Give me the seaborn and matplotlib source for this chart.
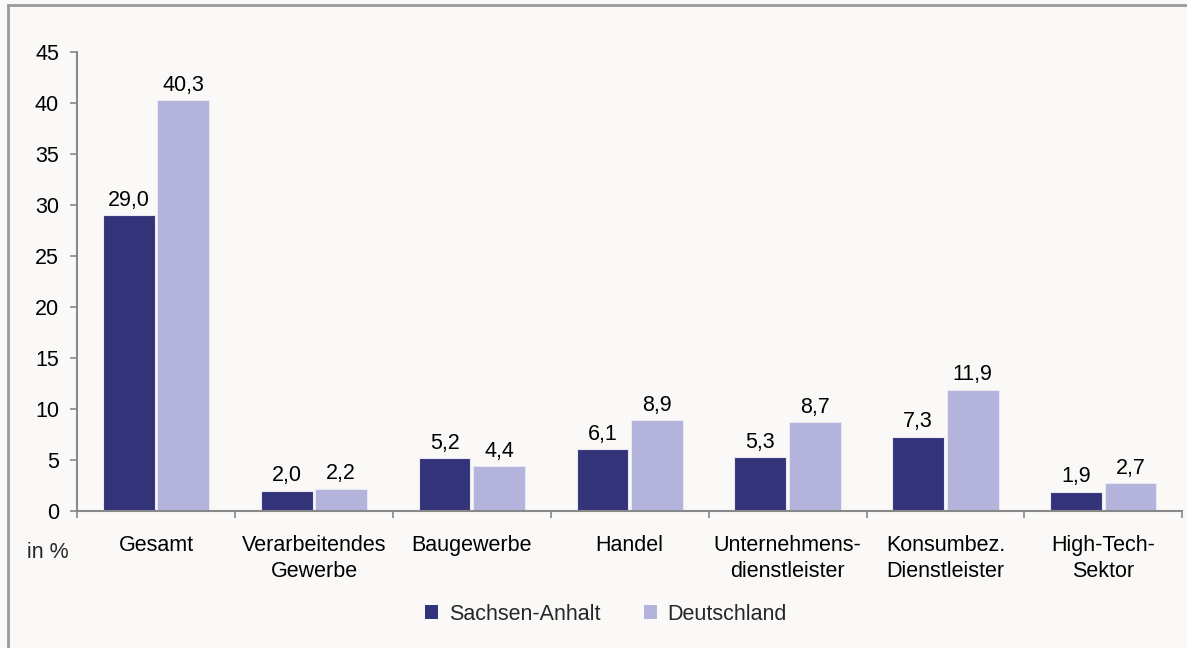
import pandas as pd
import matplotlib.pyplot as plt
import seaborn as sns
from matplotlib.patches import Rectangle, Patch

# Data
categories = ['Gesamt', 'Verarbeitendes\nGewerbe', 'Baugewerbe', 'Handel',
              'Unternehmens-\ndienstleister', 'Konsumbez.\nDienstleister', 'High-Tech-\nSektor']
sachsen_anhalt = [29.0, 2.0, 5.2, 6.1, 5.3, 7.3, 1.9]
deutschland = [40.3, 2.2, 4.4, 8.9, 8.7, 11.9, 2.7]
series = ['Sachsen-Anhalt', 'Deutschland']
colors = ['#333379', '#B3B3DB']
bg = '#FAF9F7'
fs = 15.5

df = pd.DataFrame({
    'Kategorie': categories * 2,
    'Wert': sachsen_anhalt + deutschland,
    'Region': [series[0]] * len(categories) + [series[1]] * len(categories),
})

sns.set_theme(style='white')
plt.rcParams['font.family'] = ['Liberation Sans', 'DejaVu Sans']

fig = plt.figure(figsize=(11.87, 6.48), dpi=100, facecolor=bg)
ax = fig.add_axes([0.065, 0.2114, 0.931, 0.7084], facecolor=bg)

sns.barplot(data=df, x='Kategorie', y='Wert', hue='Region', palette=colors,
            saturation=1, width=0.69, gap=0.05, edgecolor='#E8E8F4', linewidth=0.8,
            legend=False, ax=ax)

for cont in ax.containers:
    ax.bar_label(cont, labels=[f'{b.get_height():.1f}'.replace('.', ',') for b in cont],
                 padding=3, fontsize=fs, color='black')

ax.set_xlim(-0.5, len(categories) - 0.5)
ax.set_ylim(0, 45)
ax.set_yticks(range(0, 46, 5))
ax.set_xlabel('')
ax.set_ylabel('')
ax.tick_params(axis='y', labelsize=fs, length=5, width=1.2, color='#888888', left=True, pad=8,
               labelcolor='black')
ax.tick_params(axis='x', labelsize=fs, length=0, pad=17, labelcolor='black')
ax.set_xticks([i - 0.5 for i in range(len(categories) + 1)], minor=True)
ax.tick_params(axis='x', which='minor', length=5, width=1.2, color='#888888', bottom=True)
for lab in ax.get_xticklabels():
    lab.set_linespacing(1.35)

for s in ['top', 'right']:
    ax.spines[s].set_visible(False)
for s in ['left', 'bottom']:
    ax.spines[s].set_color('#888888')
    ax.spines[s].set_linewidth(1.5)

fig.text(48 / 1187, 1 - 553 / 648, 'in %', fontsize=fs, ha='center', va='center')

handles = [Patch(facecolor=c, edgecolor='none') for c in colors]
fig.legend(handles, series, loc='center', bbox_to_anchor=(606 / 1187, 1 - 614 / 648),
           ncol=2, frameon=False, fontsize=fs, handlelength=0.6, handleheight=0.6,
           handletextpad=0.5, columnspacing=2.0)

# outer frame (top and left edges visible)
fig.patches.append(Rectangle((8 / 1187, -0.1), 1.2, 1 - 5 / 648 + 0.1,
                             transform=fig.transFigure, fill=False,
                             edgecolor='#999999', linewidth=2))

fig.savefig('out.png', dpi=100, facecolor=bg)
